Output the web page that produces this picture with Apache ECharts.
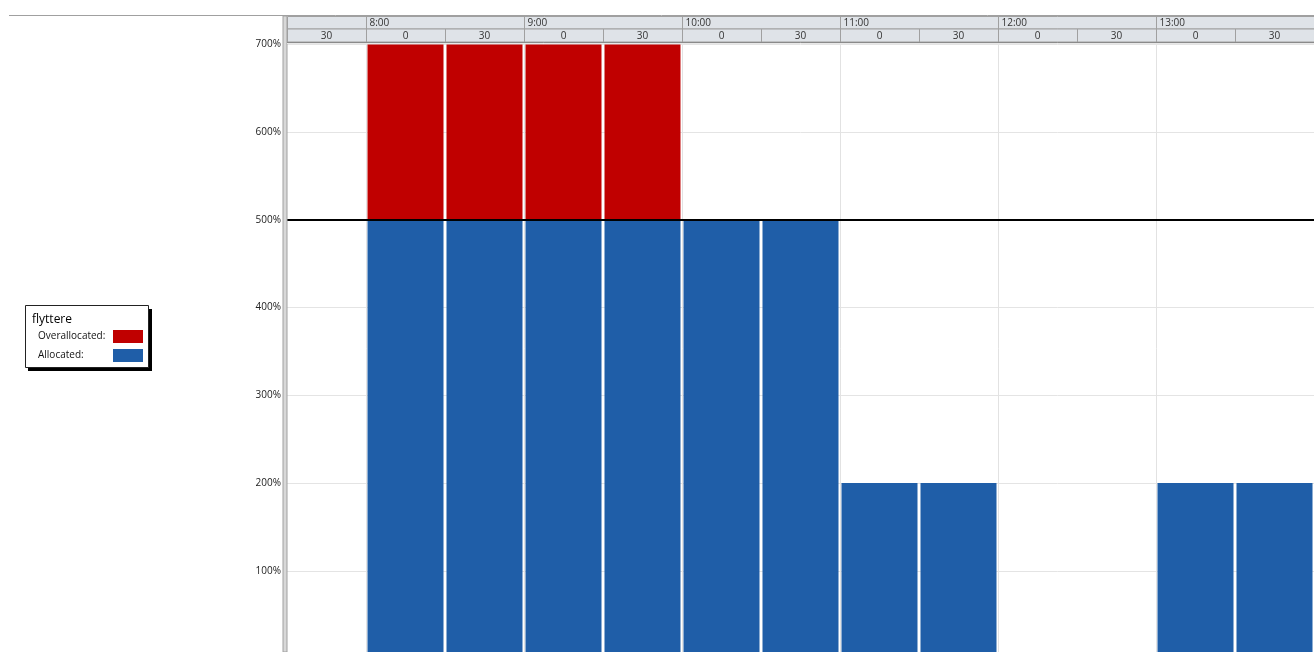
<!DOCTYPE html>
<html><head><meta charset="utf-8">
<script src="https://cdn.jsdelivr.net/npm/echarts@6/dist/echarts.min.js"></script>
<style>html,body{margin:0;padding:0;background:#fff}#c{width:1314px;height:652px}</style>
</head><body><div id="c"></div>
<script>
// ---- data ----
const slots = ['7:30','8:00','8:30','9:00','9:30','10:00','10:30','11:00','11:30','12:00','12:30','13:00','13:30'];
const minuteLabels = ['30','0','30','0','30','0','30','0','30','0','30','0','30'];
const hourLabels = ['','8:00','','9:00','','10:00','','11:00','','12:00','','13:00',''];
const allocated = [0,500,500,500,500,500,500,200,200,0,0,200,200];
const overallocated = [0,200,200,200,200,0,0,0,0,0,0,0,0];
const maxUnits = 500;
const resourceName = 'flyttere';
const seriesNames = ['Allocated:','Overallocated:'];
const colors = {allocated:'#1F5EA8', over:'#C00000'};

const FONT = '"Open Sans", "DejaVu Sans", sans-serif';
const chart = echarts.init(document.getElementById('c'), null, {renderer:'canvas'});

chart.setOption({
  animation:false,
  grid:{left:287,width:1027,top:44.5,height:614,containLabel:false,outerBoundsMode:'none'},
  xAxis:{type:'category',data:slots,
    axisLine:{show:false},axisTick:{show:false},axisLabel:{show:false},
    splitLine:{show:true,interval:(i)=>hourLabels[i]!=='',lineStyle:{color:'#E2E2E2',width:1}}},
  yAxis:{type:'value',min:0,max:700,interval:100,
    axisLine:{show:false},
    axisTick:{show:true,length:3,lineStyle:{color:'#333'}},
    axisLabel:{formatter:(v)=>v===0?'':v+'%',fontSize:10,color:'#222',fontFamily:FONT,margin:6},
    splitLine:{lineStyle:{color:'#E4E4E4',width:1}}},
  legend:{orient:'vertical',left:33,top:325,itemGap:6,itemWidth:30,itemHeight:13,align:'right',
    icon:'rect',selectedMode:false,data:[seriesNames[1],seriesNames[0]],
    formatter:(n)=>'{a|'+n+'}',
    textStyle:{fontSize:10,color:'#111',fontFamily:FONT,
      rich:{a:{width:70,align:'left',fontSize:10,color:'#111',fontFamily:FONT}}}},
  series:[
    {name:seriesNames[0],type:'bar',stack:'u',data:allocated,barWidth:76,
     itemStyle:{color:colors.allocated},
     markLine:{symbol:'none',silent:true,label:{show:false},
       lineStyle:{color:'#000',width:2,type:'solid'},data:[{yAxis:maxUnits}],z:10}},
    {name:seriesNames[1],type:'bar',stack:'u',data:overallocated,barWidth:76,
     itemStyle:{color:colors.over}}
  ]
});

// ---- header and frame decorations, positioned through the axis scale ----
const cx = slots.map((s,i)=>chart.convertToPixel({xAxisIndex:0},i));
const w = cx[1]-cx[0];
const g = [];
const W = 1314;
g.push({type:'line',shape:{x1:9,y1:15.5,x2:W,y2:15.5},style:{stroke:'#A0A0A0',lineWidth:1},z:100});
g.push({type:'rect',shape:{x:283,y:16,width:4,height:636},style:{fill:'#D8D8D8',stroke:'#A0A0A0',lineWidth:1},z:100});
g.push({type:'rect',shape:{x:287.5,y:16.5,width:W-287,height:12.5},style:{fill:'#DFE3E8',stroke:'#A0A0A0',lineWidth:1},z:100});
g.push({type:'rect',shape:{x:287.5,y:29,width:W-287,height:13},style:{fill:'#DFE3E8',stroke:'#A0A0A0',lineWidth:1},z:100});
g.push({type:'line',shape:{x1:287,y1:42.5,x2:W,y2:42.5},style:{stroke:'#8A8A8A',lineWidth:1},z:101});
g.push({type:'line',shape:{x1:287,y1:43.5,x2:W,y2:43.5},style:{stroke:'#E8E8E8',lineWidth:1},z:101});
slots.forEach((s,i)=>{
  const left = Math.round(cx[i]-w/2)+0.5;
  g.push({type:'line',shape:{x1:left,y1:29,x2:left,y2:42},style:{stroke:'#A0A0A0',lineWidth:1},z:101});
  g.push({type:'text',x:cx[i],y:36,style:{text:minuteLabels[i],font:'10px '+FONT,fill:'#333',align:'center',verticalAlign:'middle'},z:102});
  if(hourLabels[i]!==''){
    g.push({type:'line',shape:{x1:left,y1:16,x2:left,y2:29},style:{stroke:'#A0A0A0',lineWidth:1},z:101});
    g.push({type:'text',x:left+3,y:23,style:{text:hourLabels[i],font:'10px '+FONT,fill:'#333',align:'left',verticalAlign:'middle'},z:102});
  }
});
g.push({type:'rect',shape:{x:28,y:309,width:124,height:62},style:{fill:'#000'},z:1});
g.push({type:'rect',shape:{x:25.5,y:305.5,width:123,height:62},style:{fill:'#fff',stroke:'#222',lineWidth:1},z:2});
g.push({type:'text',x:32,y:320,style:{text:resourceName,font:'12px '+FONT,fill:'#000',align:'left',verticalAlign:'middle'},z:3});
chart.setOption({graphic:g, legend:{z:5}});
</script>
</body></html>
